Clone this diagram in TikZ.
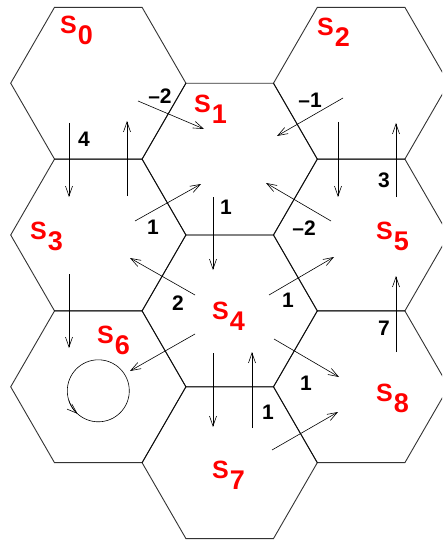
\documentclass[tikz,border=0pt]{standalone}
\usepackage{fontspec}
\setmainfont{Liberation Sans}
\usetikzlibrary{shapes.geometric,arrows.meta}
\begin{document}
\begin{tikzpicture}[x=1pt,y=-1pt,
 hexcell/.style={regular polygon,regular polygon sides=6,minimum size=175.2pt,inner sep=0pt,outer sep=0pt,draw=black,line width=0.9pt,draw opacity=0.8},
 arr/.style={line width=0.6pt,-{Straight Barb[length=10pt,width=7pt,line width=0.6pt]}},
 wt/.style={font=\fontsize{21}{21}\selectfont\bfseries,inner sep=0pt},
 st/.style={font=\fontsize{25}{25}\selectfont\bfseries,text=red,inner sep=0pt,anchor=base west}]
\clip (0,0) rectangle (442,540);
% hexagonal cells
\node[hexcell] (S0) at (98.3,83.2) {};
\node[hexcell] (S1) at (229.7,159.1) {};
\node[hexcell] (S2) at (361.1,83.2) {};
\node[hexcell] (S3) at (98.3,235) {};
\node[hexcell] (S4) at (229.7,310.9) {};
\node[hexcell] (S5) at (361.1,235) {};
\node[hexcell] (S6) at (98.3,386.8) {};
\node[hexcell] (S7) at (229.7,462.7) {};
\node[hexcell] (S8) at (361.1,386.8) {};
% state labels
\newcommand{\sidx}[1]{\hspace{1pt}\raisebox{-11pt}{\fontsize{27}{27}\selectfont #1}}
\node[st] (n0) at (60,34) {S\sidx{0}};
\node[st] (n1) at (194,113) {S\sidx{1}};
\node[st] (n2) at (317,36) {S\sidx{2}};
\node[st] (n3) at (30,239) {S\sidx{3}};
\node[st] (n4) at (212,319) {S\sidx{4}};
\node[st] (n5) at (376,239) {S\sidx{5}};
\node[st] (n6) at (97,343) {S\sidx{6}};
\node[st] (n7) at (212,478) {S\sidx{7}};
\node[st] (n8) at (376,401) {S\sidx{8}};
% transitions
\draw[arr] ([shift={(-29.3,39.8)}]S0.center) -- ([shift={(-29.3,-38)}]S3.center);
\draw[arr] ([shift={(28.7,-39)}]S3.center) -- ([shift={(28.7,37.8)}]S0.center);
\draw[arr] ([shift={(39.7,17.8)}]S0.center) -- ([shift={(-25.7,-30.1)}]S1.center);
\draw[arr] ([shift={(-18.1,14.8)}]S2.center) -- ([shift={(47.3,-23.1)}]S1.center);
\draw[arr] ([shift={(-23.1,38.8)}]S2.center) -- ([shift={(-23.1,-38)}]S5.center);
\draw[arr] ([shift={(34.9,-38)}]S5.center) -- ([shift={(34.9,39.8)}]S2.center);
\draw[arr] ([shift={(-16.7,37.9)}]S1.center) -- ([shift={(-16.7,-40.9)}]S4.center);
\draw[arr] ([shift={(36.7,-14)}]S3.center) -- ([shift={(-28.7,24.9)}]S1.center);
\draw[arr] ([shift={(-34.7,-15.9)}]S4.center) -- ([shift={(31.7,23)}]S3.center);
\draw[arr] ([shift={(-30.1,-14)}]S5.center) -- ([shift={(36.3,23.9)}]S1.center);
\draw[arr] ([shift={(39.3,-15.9)}]S4.center) -- ([shift={(-27.1,22)}]S5.center);
\draw[arr] ([shift={(34.9,-34.8)}]S8.center) -- ([shift={(34.9,41)}]S5.center);
\draw[arr] ([shift={(-34.7,23.1)}]S4.center) -- ([shift={(31.7,-15.8)}]S6.center);
\draw[arr] ([shift={(-29.3,39)}]S3.center) -- ([shift={(-29.3,-38.8)}]S6.center);
\draw[arr] ([shift={(-16.7,42.1)}]S4.center) -- ([shift={(-16.7,-35.7)}]S7.center);
\draw[arr] ([shift={(22.3,-34.7)}]S7.center) -- ([shift={(22.3,41.1)}]S4.center);
\draw[arr] ([shift={(44.3,28.1)}]S4.center) -- ([shift={(-22.1,-9.8)}]S8.center);
\draw[arr] ([shift={(42.3,-12.7)}]S7.center) -- ([shift={(-23.1,25.2)}]S8.center);
% self loop in S6
\coordinate (c6) at ([shift={(0,4)}]S6.center);
\draw[line width=0.6pt] (c6) circle[radius=31];
\draw[arr] ([shift={(162:31)}]c6) arc[start angle=162,end angle=132,radius=31];
% weights
\node[wt] (w1) at (84,139) {4};
\node[wt] (w2) at (160,96) {–2};
\node[wt] (w3) at (310,100) {–1};
\node[wt] (w4) at (384,180) {3};
\node[wt] (w5) at (226,207) {1};
\node[wt] (w6) at (153,227) {1};
\node[wt] (w7) at (178,303) {2};
\node[wt] (w8) at (304,228) {–2};
\node[wt] (w9) at (288,300) {1};
\node[wt] (w10) at (384,328) {7};
\node[wt] (w11) at (268,412) {1};
\node[wt] (w12) at (306,383) {1};
\end{tikzpicture}
\end{document}
